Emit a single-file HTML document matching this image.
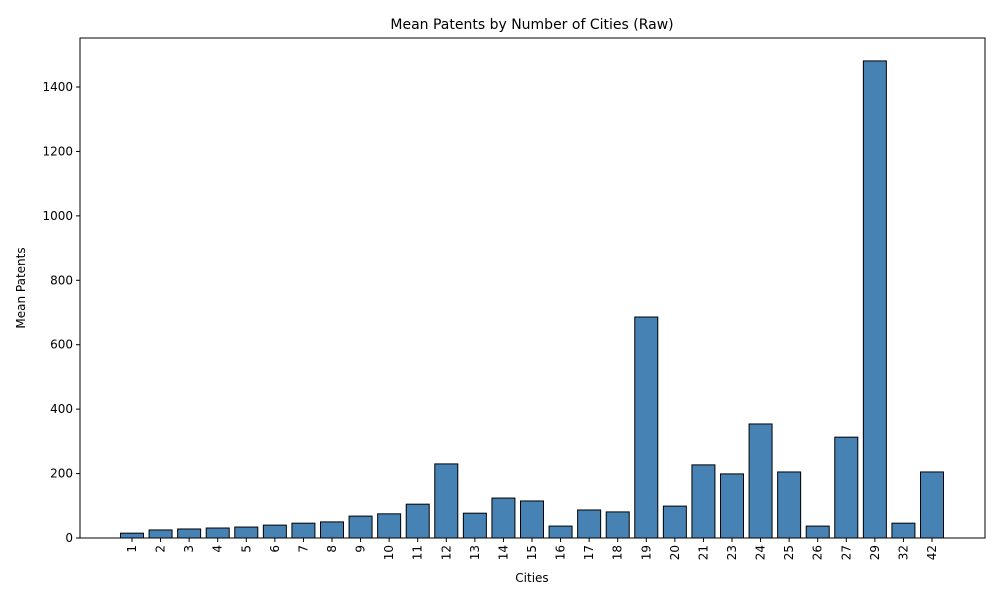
<!DOCTYPE html>
<html><head><meta charset="utf-8"><style>
body{margin:0;background:#fff;font-family:"DejaVu Sans","Liberation Sans",sans-serif;}
svg text{font-family:"DejaVu Sans","Liberation Sans",sans-serif;}
</style></head><body>
<svg id="chart" width="1000" height="600" xmlns="http://www.w3.org/2000/svg"></svg>
<script>
const categories=["1","2","3","4","5","6","7","8","9","10","11","12","13","14","15","16","17","18","19","20","21","23","24","25","26","27","29","32","42"];
const values=[15,25,28,31,34,40,46,50,68,75,105,230,77,124,115,37,87,81,686,99,227,199,354,205,37,313,1481,46,205];
const yTicks=[0,200,400,600,800,1000,1200,1400];
const svg=document.getElementById('chart');
const NS='http://www.w3.org/2000/svg';
const L=80,R=985,T=38,B=538;
function xScale(i){return 132+i*(800/28);}
function yScale(v){return B-v*(451/1400);}
function mk(tag,attrs,txt){const e=document.createElementNS(NS,tag);for(const k in attrs)e.setAttribute(k,attrs[k]);if(txt!==undefined)e.textContent=txt;svg.appendChild(e);return e;}
const bw=23;
values.forEach((v,i)=>{
 const b=mk('rect',{x:xScale(i)-bw/2,y:yScale(v),width:bw,height:B-yScale(v),fill:'#4682b4',stroke:'#000','stroke-width':1});
 
 
 mk('line',{x1:xScale(i),x2:xScale(i),y1:B,y2:B+4,stroke:'#000'});
 const lb=mk('text',{x:0,y:0,'font-size':12,'text-anchor':'end','dominant-baseline':'central',transform:`translate(${xScale(i)},${B+7}) rotate(-90)`},categories[i]);
 
 
});
yTicks.forEach(v=>{
 mk('line',{x1:L-4,x2:L,y1:yScale(v),y2:yScale(v),stroke:'#000'});
 const lb=mk('text',{x:L-7,y:yScale(v)+4,'font-size':12,'text-anchor':'end'},v);
 
 
});
const fr=mk('rect',{x:L,y:T,width:R-L,height:B-T,fill:'none',stroke:'#000','stroke-width':1});


const ti=mk('text',{x:532,y:29,'font-size':14,'text-anchor':'middle'},'Mean Patents by Number of Cities (Raw)');


const xt=mk('text',{x:532,y:582,'font-size':12,'text-anchor':'middle'},'Cities');


const yt=mk('text',{x:0,y:0,'font-size':12,'text-anchor':'middle',transform:'translate(25,288) rotate(-90)'},'Mean Patents');


</script>
</body></html>
